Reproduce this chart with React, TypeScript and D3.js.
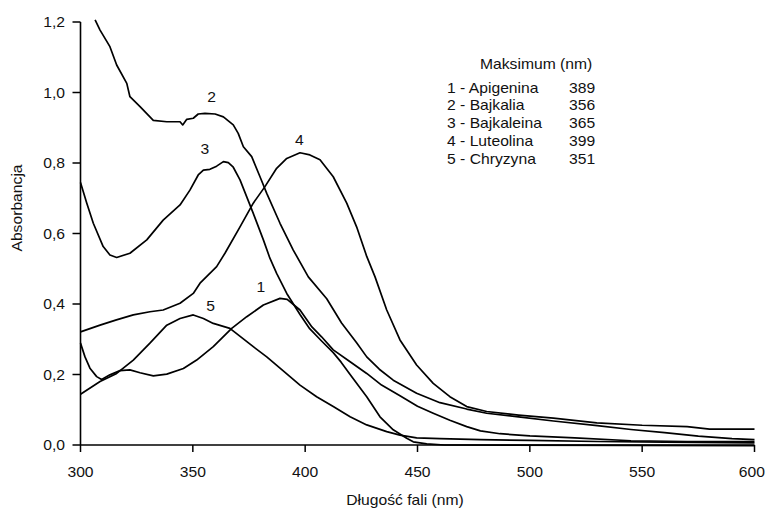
import React from 'react';
import * as d3 from 'd3';

// wavelengths (nm) and absorbance
const apigeninaW = [300, 302, 304.2, 307.2, 309.4, 313.1, 317.6, 322, 326.5, 332.4, 338.4, 345.8, 351.7, 359.1, 367.3, 374, 381.4, 388.8, 392, 397.7, 403, 407.3, 412.5, 420, 427.4, 434, 442.2, 450, 457, 464.4, 471.9, 478, 486.7, 500, 520, 545, 570, 600];
const apigeninaA = [0.289, 0.25, 0.218, 0.194, 0.186, 0.199, 0.211, 0.213, 0.205, 0.196, 0.201, 0.217, 0.241, 0.279, 0.331, 0.364, 0.397, 0.416, 0.413, 0.383, 0.335, 0.307, 0.27, 0.236, 0.203, 0.17, 0.14, 0.11, 0.09, 0.07, 0.052, 0.04, 0.032, 0.026, 0.02, 0.012, 0.01, 0.01];

const bajkaliaW = [306.5, 308.7, 313.1, 316.1, 320.6, 322, 326.5, 332.4, 338.4, 344.3, 345.5, 347.3, 350.2, 352.4, 355.4, 359.9, 363.6, 368, 370.2, 372.5, 376.2, 379.9, 382.9, 388.8, 394.7, 401.4, 409.6, 416.2, 422.9, 427.4, 433, 439.2, 449.6, 460, 471.9, 480.8, 495, 510.5, 530, 545, 560, 575, 590, 600];
const bajkaliaA = [1.206, 1.177, 1.13, 1.078, 1.026, 0.988, 0.96, 0.921, 0.917, 0.917, 0.908, 0.924, 0.927, 0.939, 0.941, 0.939, 0.931, 0.908, 0.884, 0.846, 0.818, 0.761, 0.714, 0.629, 0.553, 0.477, 0.415, 0.346, 0.29, 0.25, 0.215, 0.184, 0.147, 0.12, 0.102, 0.09, 0.08, 0.068, 0.055, 0.044, 0.035, 0.025, 0.018, 0.015];

const bajkaleinaW = [300, 302.8, 305.7, 310.1, 313.1, 316.1, 322, 329.5, 336.8, 344.3, 348.7, 352.4, 354.7, 357.6, 360.6, 363.6, 365.8, 368, 371, 374, 376.9, 381.4, 384.3, 387.3, 391.8, 397.7, 402, 407.3, 412.5, 416, 420, 427.4, 433.3, 439.2, 445.2, 448.1, 454.1, 462, 600];
const bajkaleinaA = [0.745, 0.686, 0.629, 0.563, 0.539, 0.532, 0.544, 0.582, 0.638, 0.681, 0.723, 0.766, 0.78, 0.782, 0.791, 0.804, 0.801, 0.788, 0.752, 0.704, 0.657, 0.582, 0.53, 0.487, 0.43, 0.37, 0.33, 0.295, 0.262, 0.235, 0.2, 0.137, 0.08, 0.043, 0.019, 0.009, 0.003, 0, -0.002];

const luteolinaW = [300, 308.7, 316, 323.5, 330.9, 336.8, 344.3, 350.2, 353.2, 360.6, 364.3, 371, 376.9, 382.1, 387.3, 391.8, 397.7, 402.1, 406.6, 412.5, 418.5, 422.9, 427.4, 431.1, 436.3, 442.2, 449.6, 457, 464.4, 471.9, 480.8, 495, 510.5, 529.8, 550, 570, 580, 600];
const luteolinaA = [0.321, 0.34, 0.355, 0.369, 0.378, 0.383, 0.402, 0.43, 0.459, 0.506, 0.544, 0.619, 0.686, 0.733, 0.785, 0.813, 0.829, 0.823, 0.809, 0.761, 0.686, 0.619, 0.535, 0.477, 0.383, 0.298, 0.227, 0.175, 0.137, 0.109, 0.095, 0.085, 0.076, 0.063, 0.056, 0.052, 0.045, 0.045];

const chryzynaW = [300, 308.7, 316.1, 323.5, 330.9, 338.4, 344.3, 350.2, 354.7, 359.1, 366.5, 376.9, 382.9, 388.8, 397.7, 405.1, 412.5, 420, 427.4, 436.3, 442.2, 449.6, 460, 478, 500, 530, 560, 600];
const chryzynaA = [0.144, 0.18, 0.203, 0.241, 0.289, 0.34, 0.359, 0.369, 0.359, 0.345, 0.331, 0.279, 0.25, 0.218, 0.17, 0.137, 0.109, 0.08, 0.057, 0.038, 0.028, 0.02, 0.018, 0.015, 0.013, 0.01, 0.008, 0.006];

// curve number labels: [text, wavelength, absorbance]
const curveLabels: [string, number, number][] = [
  ['1', 380.3, 0.449],
  ['2', 358.4, 0.986],
  ['3', 355.4, 0.84],
  ['4', 397.4, 0.864],
  ['5', 357.9, 0.394],
];

const legendNames = ['1 - Apigenina', '2 - Bajkalia', '3 - Bajkaleina', '4 - Luteolina', '5 - Chryzyna'];
const legendMax = ['389', '356', '365', '399', '351'];

const xTicks = [300, 350, 400, 450, 500, 550, 600];
const yTicks = [0, 0.2, 0.4, 0.6, 0.8, 1.0, 1.2];

const FONT = '"Liberation Sans", Arial, Helvetica, sans-serif';
const SX = 1.12;

function T({ x, y, anchor = 'start', rotate = 0, dy, children }: any) {
  return (
    <text
      transform={`translate(${x},${y}) rotate(${rotate}) scale(${SX},1)`}
      textAnchor={anchor}
      dy={dy}
      fontFamily={FONT}
      fontSize={14}
      fill="#111"
    >
      {children}
    </text>
  );
}

export default function App() {
  const x = d3.scaleLinear().domain([300, 600]).range([80.5, 754.5]);
  const y = d3.scaleLinear().domain([0, 1.2]).range([445, 22]);

  const series = [
    [apigeninaW, apigeninaA],
    [bajkaliaW, bajkaliaA],
    [bajkaleinaW, bajkaleinaA],
    [luteolinaW, luteolinaA],
    [chryzynaW, chryzynaA],
  ];

  const line = d3
    .line<[number, number]>()
    .x((d) => x(d[0]))
    .y((d) => y(d[1]));

  return (
    <svg
      width={766}
      height={510}
      style={{ position: 'absolute', left: 0, top: 0, background: '#fff' }}
    >
      <rect width={766} height={510} fill="#fff" />
      {series.map(([w, a], i) => (
        <path
          key={i}
          d={line(w.map((v, j) => [v, a[j]] as [number, number])) || ''}
          fill="none"
          stroke="#000"
          strokeWidth={1.7}
          strokeLinejoin="round"
        />
      ))}

      {/* axes */}
      <line x1={x(300)} x2={x(600)} y1={y(0)} y2={y(0)} stroke="#000" strokeWidth={1.6} />
      <line x1={x(300)} x2={x(300)} y1={y(0)} y2={y(1.2)} stroke="#000" strokeWidth={1.6} />
      {xTicks.map((t) => (
        <g key={t}>
          <line x1={x(t)} x2={x(t)} y1={y(0)} y2={y(0) + 7} stroke="#000" strokeWidth={1.5} />
          <T x={t === 600 ? 765 : x(t)} y={477} anchor={t === 600 ? 'end' : 'middle'}>{t}</T>
        </g>
      ))}
      {yTicks.map((t) => (
        <g key={t}>
          <line x1={x(300) - 8} x2={x(300)} y1={y(t)} y2={y(t)} stroke="#000" strokeWidth={1.5} />
          <T x={65} y={y(t)} anchor="end" dy="0.36em">{t.toFixed(1).replace('.', ',')}</T>
        </g>
      ))}

      <T x={22} y={208} anchor="middle" rotate={-90}>Absorbancja</T>
      <T x={405} y={505} anchor="middle">Długość fali (nm)</T>

      {curveLabels.map(([s, w, a]) => (
        <T key={s} x={x(w)} y={y(a)} anchor="middle" dy="0.36em">{s}</T>
      ))}

      <T x={480} y={69} >Maksimum (nm)</T>
      {legendNames.map((n, i) => (
        <g key={n}>
          <T x={447} y={92.7 + i * 17.7}>{n}</T>
          <T x={569} y={92.7 + i * 17.7}>{legendMax[i]}</T>
        </g>
      ))}
    </svg>
  );
}
